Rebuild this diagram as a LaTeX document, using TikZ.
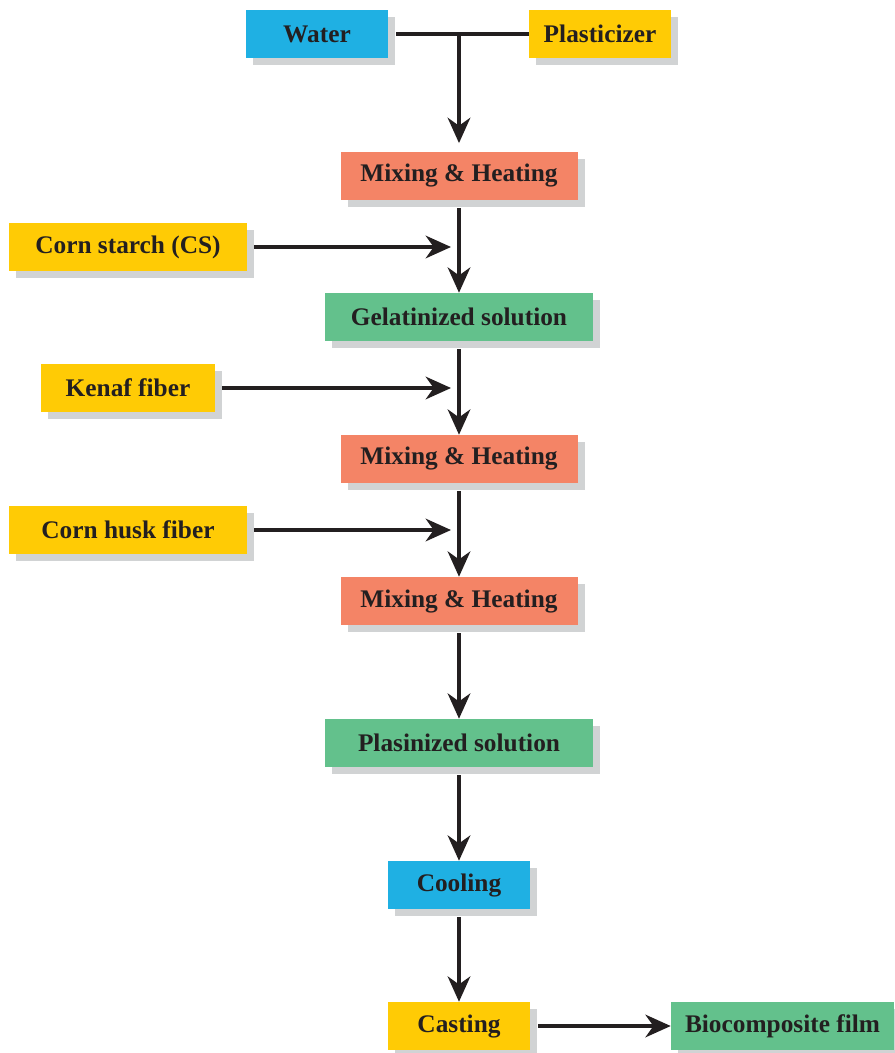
\documentclass[tikz,border=0pt]{standalone}
\usepackage{fontspec}
\setmainfont{Liberation Serif}
\usetikzlibrary{arrows.meta,shadows}
\definecolor{cblue}{HTML}{1FB0E3}
\definecolor{cyellow}{HTML}{FFCB05}
\definecolor{csalmon}{HTML}{F48466}
\definecolor{cgreen}{HTML}{63C18C}
\definecolor{cshadow}{HTML}{D1D3D4}
\definecolor{ctext}{HTML}{231F20}
\tikzset{
  box/.style={draw=none, inner sep=0pt, minimum height=48*0.75pt,
    font=\fontsize{19}{22}\selectfont\bfseries, text=ctext,
    drop shadow={shadow xshift=5.5pt, shadow yshift=-5.5pt, opacity=1, fill=cshadow}},
  bluebox/.style={box, fill=cblue},
  yellowbox/.style={box, fill=cyellow},
  salmonbox/.style={box, fill=csalmon},
  greenbox/.style={box, fill=cgreen},
  arr/.style={draw=ctext, line width=2.4pt, -{Stealth[length=19pt, width=17pt, inset=6pt]}},
  ln/.style={draw=ctext, line width=2.4pt}
}
\begin{document}
\begin{tikzpicture}[x=0.75pt, y=-0.75pt]
\useasboundingbox (0,0) rectangle (894,1053);
\node[bluebox, minimum width=142*0.75pt] (water) at (317,34) {Water};
\node[yellowbox, minimum width=142*0.75pt] (plast) at (600,34) {Plasticizer};
\node[salmonbox, minimum width=237*0.75pt] (mix1) at (459,176) {Mixing \& Heating};
\node[yellowbox, minimum width=238*0.75pt] (corn) at (128,247) {Corn starch (CS)};
\node[greenbox, minimum width=268*0.75pt] (gel) at (459,317) {Gelatinized solution};
\node[yellowbox, minimum width=174*0.75pt] (kenaf) at (128,388) {Kenaf fiber};
\node[salmonbox, minimum width=237*0.75pt] (mix2) at (459,459) {Mixing \& Heating};
\node[yellowbox, minimum width=238*0.75pt] (husk) at (128,530) {Corn husk fiber};
\node[salmonbox, minimum width=237*0.75pt] (mix3) at (459,601) {Mixing \& Heating};
\node[greenbox, minimum width=268*0.75pt] (plas) at (459,743) {Plasinized solution};
\node[bluebox, minimum width=142*0.75pt] (cool) at (459,885) {Cooling};
\node[yellowbox, minimum width=142*0.75pt] (cast) at (459,1026) {Casting};
\node[greenbox, minimum width=223*0.75pt] (bio) at (782.5,1026) {Biocomposite film};

\coordinate (j) at (water.east -| mix1.north);
\draw[ln] ([xshift=6pt]water.east) -- (plast.west);
\draw[arr, shorten >=6.5pt] (j) -- (mix1.north);

\coordinate (c1) at (corn.east -| mix1.south);
\coordinate (c2) at (kenaf.east -| gel.south);
\coordinate (c3) at (husk.east -| mix2.south);

\draw[arr] ([yshift=-6pt]mix1.south) -- (gel.north);
\draw[arr] ([xshift=5pt]corn.east) -- ([xshift=-6pt]c1);
\draw[arr] ([yshift=-6pt]gel.south) -- (mix2.north);
\draw[arr] ([xshift=5pt]kenaf.east) -- ([xshift=-6pt]c2);
\draw[arr] ([yshift=-6pt]mix2.south) -- (mix3.north);
\draw[arr] ([xshift=5pt]husk.east) -- ([xshift=-6pt]c3);
\draw[arr] ([yshift=-6pt]mix3.south) -- (plas.north);
\draw[arr] ([yshift=-6pt]plas.south) -- (cool.north);
\draw[arr] ([yshift=-6pt]cool.south) -- (cast.north);
\draw[arr] ([xshift=6pt]cast.east) -- (bio.west);
\end{tikzpicture}
\end{document}
